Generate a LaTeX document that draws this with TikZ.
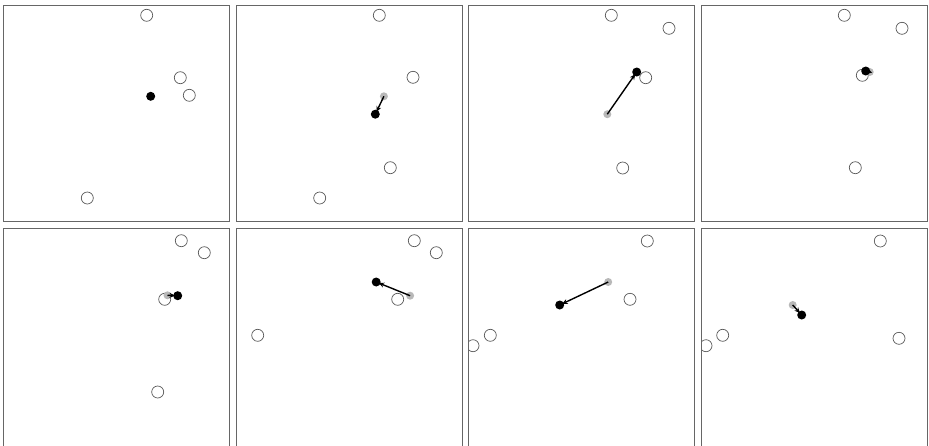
\documentclass[tikz,border=0pt]{standalone}
\usepackage{tikz}
\usetikzlibrary{arrows.meta}

\begin{document}
\begin{tikzpicture}[x=1pt,y=-1pt,
  frame/.style={draw=black!60,line width=0.9pt},
  target/.style={circle,draw=black!65,line width=0.7pt,minimum size=12pt,inner sep=0pt},
  prev/.style={circle,fill=black!28,minimum size=8pt,inner sep=0pt},
  agent/.style={circle,fill=black,minimum size=9pt,inner sep=0pt},
  move/.style={-{Stealth[length=5.5pt,width=5pt]},line width=1.4pt,black,shorten >=-2pt}]
  \useasboundingbox (0,0) rectangle (929,445);
  % top row
  \begin{scope}[shift={(3.5,5)}]
    \begin{scope}
      \clip (0,0) rectangle (225.5,216);
      \node[target] (p1t1) at (143.2,10.3) {};
      \node[target] (p1t2) at (176.8,72.7) {};
      \node[target] (p1t3) at (185.8,90.3) {};
      \node[target] (p1t4) at (83.8,193) {};
      \node[agent] (p1a) at (147.2,91.3) {};
    \end{scope}
    \draw[frame] (0,0) rectangle (225.5,216);
  \end{scope}
  \begin{scope}[shift={(236.7,5)}]
    \begin{scope}
      \clip (0,0) rectangle (225.5,216);
      \node[target] (p2t1) at (142.6,10.3) {};
      \node[target] (p2t2) at (176.3,72.3) {};
      \node[target] (p2t3) at (153.6,162.7) {};
      \node[target] (p2t4) at (83,193) {};
      \node[prev] (p2g) at (147.2,91.3) {};
      \node[agent] (p2a) at (138.6,109.2) {};
      \draw[move] (p2g.center) -- (p2a);
    \end{scope}
    \draw[frame] (0,0) rectangle (225.5,216);
  \end{scope}
  \begin{scope}[shift={(468.7,5)}]
    \begin{scope}
      \clip (0,0) rectangle (225.5,216);
      \node[target] (p3t1) at (142.6,10.3) {};
      \node[target] (p3t2) at (200.3,23.3) {};
      \node[target] (p3t3) at (177,72.7) {};
      \node[target] (p3t4) at (154,163) {};
      \node[prev] (p3g) at (138.6,109.2) {};
      \node[agent] (p3a) at (168,67) {};
      \draw[move] (p3g.center) -- (p3a);
    \end{scope}
    \draw[frame] (0,0) rectangle (225.5,216);
  \end{scope}
  \begin{scope}[shift={(701.7,5)}]
    \begin{scope}
      \clip (0,0) rectangle (225.5,216);
      \node[target] (p4t1) at (142.6,10.3) {};
      \node[target] (p4t2) at (200.3,23.3) {};
      \node[target] (p4t3) at (160.6,70.3) {};
      \node[target] (p4t4) at (153.6,162.7) {};
      \node[prev] (p4g) at (168,67) {};
      \node[agent] (p4a) at (164,66) {};
      \draw[move] (p4g.center) -- (p4a);
    \end{scope}
    \draw[frame] (0,0) rectangle (225.5,216);
  \end{scope}
  % bottom row
  \begin{scope}[shift={(3.5,228.7)}]
    \begin{scope}
      \clip (0,0) rectangle (225.5,220);
      \node[target] (p5t1) at (177.8,12) {};
      \node[target] (p5t2) at (200.8,24) {};
      \node[target] (p5t3) at (161.2,70.6) {};
      \node[target] (p5t4) at (154.2,163.3) {};
      \node[prev] (p5g) at (164,66.6) {};
      \node[agent] (p5a) at (174.2,67) {};
      \draw[move] (p5g.center) -- (p5a);
    \end{scope}
    \draw[frame] (0,0) rectangle (225.5,220);
  \end{scope}
  \begin{scope}[shift={(236.7,228.7)}]
    \begin{scope}
      \clip (0,0) rectangle (225.5,220);
      \node[target] (p6t1) at (177.6,12) {};
      \node[target] (p6t2) at (199.6,24) {};
      \node[target] (p6t3) at (161,70.6) {};
      \node[target] (p6t4) at (21,106.6) {};
      \node[prev] (p6g) at (173.4,67) {};
      \node[agent] (p6a) at (139.5,53.3) {};
      \draw[move] (p6g.center) -- (p6a);
    \end{scope}
    \draw[frame] (0,0) rectangle (225.5,220);
  \end{scope}
  \begin{scope}[shift={(468.7,228.7)}]
    \begin{scope}
      \clip (0,0) rectangle (225.5,220);
      \node[target] (p7t1) at (178.6,12.3) {};
      \node[target] (p7t2) at (161.3,70.6) {};
      \node[target] (p7t3) at (21.6,106.6) {};
      \node[target] (p7t4) at (4.3,117) {};
      \node[prev] (p7g) at (139.5,53.3) {};
      \node[agent] (p7a) at (91,76.3) {};
      \draw[move] (p7g.center) -- (p7a);
    \end{scope}
    \draw[frame] (0,0) rectangle (225.5,220);
  \end{scope}
  \begin{scope}[shift={(701.7,228.7)}]
    \begin{scope}
      \clip (0,0) rectangle (225.5,220);
      \node[target] (p8t1) at (178.6,12.3) {};
      \node[target] (p8t2) at (21,106.6) {};
      \node[target] (p8t3) at (4.3,117) {};
      \node[target] (p8t4) at (197.3,109.6) {};
      \node[prev] (p8g) at (91,76.3) {};
      \node[agent] (p8a) at (100,86.3) {};
      \draw[move] (p8g.center) -- (p8a);
    \end{scope}
    \draw[frame] (0,0) rectangle (225.5,220);
  \end{scope}
\end{tikzpicture}
\end{document}
